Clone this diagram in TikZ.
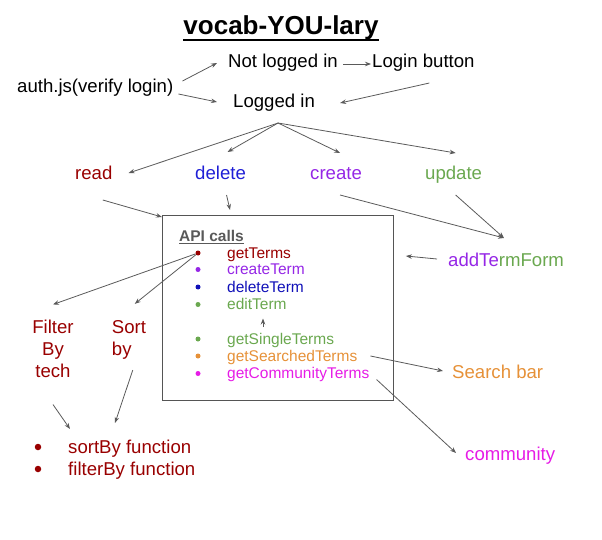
\documentclass[tikz,border=0pt]{standalone}
\usepackage{fontspec}
\setmainfont{Liberation Sans}
\usetikzlibrary{arrows.meta}
\definecolor{dred}{HTML}{990000}
\definecolor{dblue}{HTML}{1F1FD6}
\definecolor{navy}{HTML}{1010B8}
\definecolor{purp}{HTML}{9526E6}
\definecolor{gr}{HTML}{6AA84F}
\definecolor{orng}{HTML}{E69138}
\definecolor{mag}{HTML}{E61CE6}
\definecolor{arrgray}{HTML}{5A5A5A}
\definecolor{boxgray}{HTML}{555555}
\definecolor{apigray}{HTML}{595959}
\begin{document}
\begin{tikzpicture}[x=1pt,y=-1pt,
  txt/.style={inner sep=0pt, anchor=base west, font=\fontsize{18.6}{22}\selectfont},
  item/.style={inner sep=0pt, anchor=base west, font=\fontsize{15.5}{17}\selectfont},
  arr/.style={draw=arrgray, line width=0.8pt, -{Stealth[length=6pt,width=4.5pt]}},
  bul/.style={circle, inner sep=0pt, minimum size=5pt, fill=#1},
  bigbul/.style={circle, inner sep=0pt, minimum size=6.5pt, fill=#1},
]
\useasboundingbox (0,0) rectangle (602,540);

% title
\node[inner sep=0pt, anchor=base, font=\bfseries\fontsize{26}{30}\selectfont] (title) at (281,35) {vocab-YOU-lary};
\draw[line width=2pt] ([shift={(0,5)}]title.base west) -- ([shift={(0,5)}]title.base east);

% login part
\node[txt] (auth) at (17,93) {auth.js(verify login)};
\node[txt] (notin) at (228,68) {Not logged in};
\node[txt] (login) at (372,68) {Login button};
\node[txt] (logged) at (233,108) {Logged in};

\draw[arr] ([shift={(9,-12)}]auth.base east) -- ([shift={(-11,-5)}]notin.base west);
\draw[arr] ([shift={(5,1)}]auth.base east) -- ([shift={(-16,-6)}]logged.base west);
\draw[arr] ([shift={(5,-4)}]notin.base east) -- ([shift={(-1,-4)}]login.base west);
\draw[arr] ([shift={(6,15)}]login.base) -- ([shift={(25,-5)}]logged.base east);

% CRUD
\node[txt, text=dred] (read) at (75,180) {read};
\node[txt, text=dblue] (delete) at (195,180) {delete};
\node[txt, text=purp] (create) at (310,180) {create};
\node[txt, text=gr] (update) at (425,180) {update};

\coordinate (fan) at ([shift={(4,15)}]logged.base);
\draw[arr] (fan) -- ([shift={(16,-7)}]read.base east);
\draw[arr] (fan) -- ([shift={(7,-28)}]delete.base);
\draw[arr] (fan) -- ([shift={(4,-27)}]create.base);
\draw[arr] (fan) -- ([shift={(2,-27)}]update.base);

% box
\node[draw=boxgray, line width=0.9pt, minimum width=231pt, minimum height=185pt, anchor=north west, inner sep=0pt] (box) at (162,215) {};
\node[item, font=\bfseries\fontsize{15.5}{17}\selectfont, text=apigray] (api) at (179,241) {API calls};
\draw[apigray, line width=1.1pt] ([shift={(0,2.5)}]api.base west) -- ([shift={(0,2.5)}]api.base east);

\node[bul=dred] (b1) at (198,253) {};
\node[bul=purp] (b2) at (198,269.5) {};
\node[bul=navy] (b3) at (198,287) {};
\node[bul=gr] (b4) at (198,304.5) {};
\node[bul=gr] (b5) at (198,339) {};
\node[bul=orng] (b6) at (198,356) {};
\node[bul=mag] (b7) at (198,373.5) {};

\node[item, text=dred] (gterms) at (227,258) {getTerms};
\node[item, text=purp] (cterm) at (227,274.5) {createTerm};
\node[item, text=navy] (dterm) at (227,292) {deleteTerm};
\node[item, text=gr] (eterm) at (227,309.5) {editTerm};
\node[item, text=gr] (gsingle) at (227,344) {getSingleTerms};
\node[item, text=orng] (gsearch) at (227,361) {getSearchedTerms};
\node[item, text=mag] (gcomm) at (227,378.5) {getCommunityTerms};

\draw[arr] ([shift={(36,-17)}]gsingle.base west) -- ([shift={(36,9)}]eterm.base west);

\draw[arr] ([shift={(9,20)}]read.base) -- ([shift={(0,2)}]box.north west);
\draw[arr] ([shift={(6,15)}]delete.base) -- ([shift={(68,-5)}]box.north west);

% addTermForm
\node[txt] (atf) at (448,266) {\textcolor{purp}{addTe}\textcolor{gr}{rmForm}};
\draw[arr] ([shift={(4,15)}]create.base) -- ([shift={(56,-28)}]atf.base west);
\draw[arr] ([shift={(2,15)}]update.base) -- ([shift={(56,-28)}]atf.base west);
\draw[arr] ([shift={(-11,-7)}]atf.base west) -- ([shift={(12,41)}]box.north east);

% filter / sort
\node[txt, anchor=center, align=center, text=dred] (filter) at (53,348.5) {Filter\\By\\tech};
\node[txt, anchor=center, align=left, text=dred] (sort) at (129,339.5) {Sort\\by};
\draw[arr] (b1) -- ([shift={(0,-15)}]filter.north);
\draw[arr] (b1) -- ([shift={(23,-16)}]sort.north west);

\node[bigbul=dred] (c1) at (38,447) {};
\node[bigbul=dred] (c2) at (38,469) {};
\node[txt, text=dred] (sortfn) at (68,453) {sortBy function};
\node[txt, text=dred] (filterfn) at (68,475) {filterBy function};
\draw[arr] ([shift={(21,11)}]sort.south west) -- ([shift={(47,-30)}]sortfn.base west);
\draw[arr] ([shift={(0,27)}]filter.south) -- ([shift={(2,-24)}]sortfn.base west);

% search / community
\node[txt, text=orng] (search) at (452,378) {Search bar};
\node[txt, text=mag] (comm) at (465,460) {community};
\draw[arr] ([shift={(13,-5)}]gsearch.base east) -- ([shift={(-9,-7)}]search.base west);
\draw[arr] ([shift={(7,1)}]gcomm.base east) -- ([shift={(-9,-7)}]comm.base west);
\end{tikzpicture}
\end{document}
